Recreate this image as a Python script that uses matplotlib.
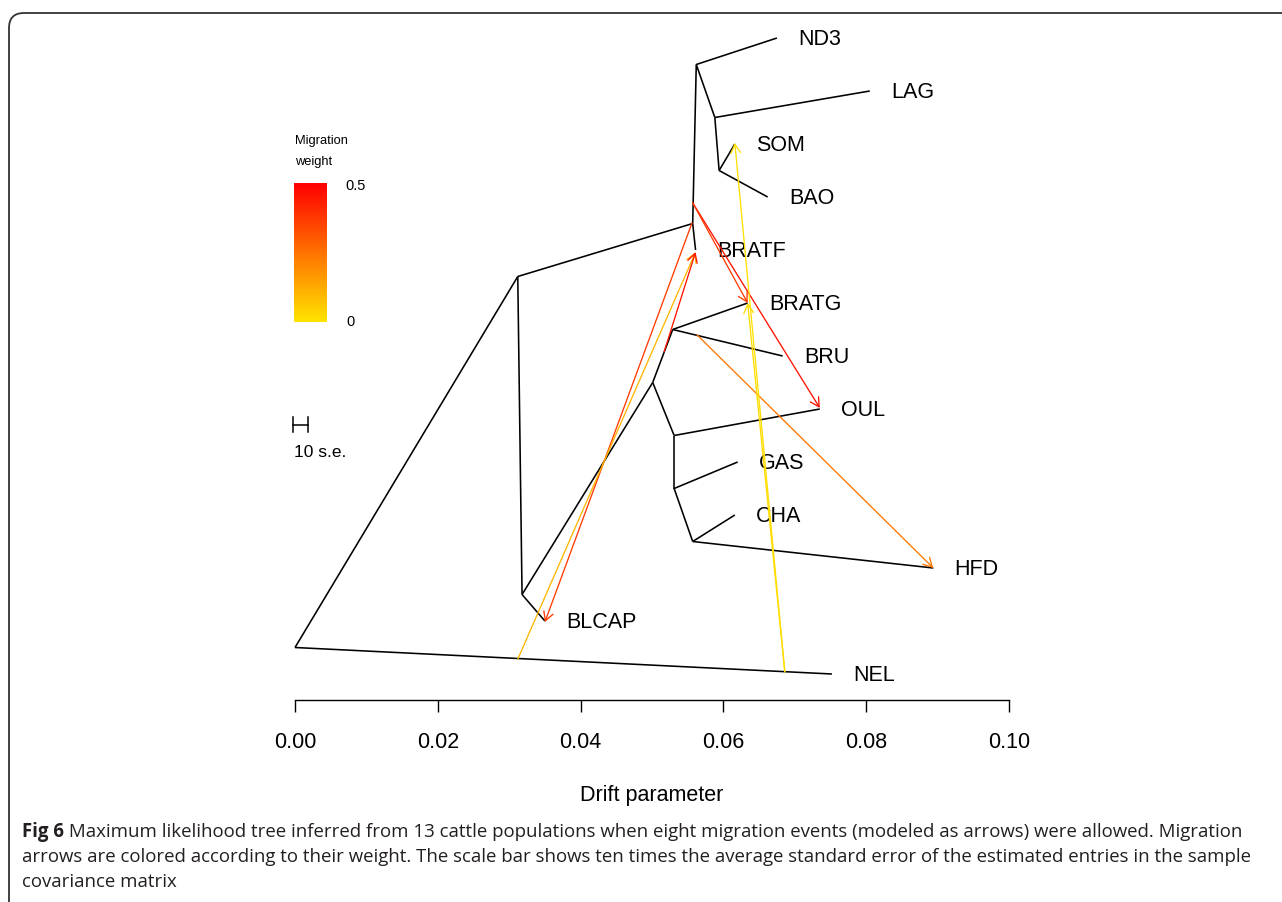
import numpy as np
import matplotlib as mpl
import matplotlib.pyplot as plt
from matplotlib.colors import LinearSegmentedColormap, Normalize
from matplotlib.patches import FancyBboxPatch
from matplotlib.transforms import IdentityTransform

plt.rcParams['font.family'] = ['Liberation Sans', 'DejaVu Sans']

################################################################################
########    DATA
################################################################################

# leaves: drift of tip, vertical slot
leaf_names = ['ND3', 'LAG', 'SOM', 'BAO', 'BRATF', 'BRATG', 'BRU',
              'OUL', 'GAS', 'CHA', 'HFD', 'BLCAP', 'NEL']
leaf_drift = [0.0675, 0.0805, 0.0616, 0.0662, 0.0561, 0.0634, 0.0683,
              0.0735, 0.0620, 0.0616, 0.0894, 0.0350, 0.0752]
leaf_pos = [12, 11, 10, 9, 8, 7, 6, 5, 4, 3, 2, 1, 0]

# internal nodes
node_ids = ['r', 'a', 'b', 'c', 'd', 'e', 'f', 'g', 'h', 'i', 'j', 'k']
node_drift = [0.0, 0.0312, 0.0557, 0.0318, 0.0501, 0.0529,
              0.0531, 0.0531, 0.0557, 0.0562, 0.0588, 0.0594]
node_pos = [0.5, 7.5, 8.5, 1.5, 5.5, 6.5, 4.5, 3.5, 2.5, 11.5, 10.5, 9.5]

edges = [('r', 'NEL'), ('r', 'a'), ('a', 'b'), ('a', 'c'), ('c', 'BLCAP'),
         ('c', 'd'), ('d', 'e'), ('e', 'BRATG'), ('e', 'BRU'), ('d', 'f'),
         ('f', 'OUL'), ('f', 'g'), ('g', 'GAS'), ('g', 'h'), ('h', 'CHA'),
         ('h', 'HFD'), ('b', 'BRATF'), ('b', 'i'), ('i', 'ND3'), ('i', 'j'),
         ('j', 'LAG'), ('j', 'k'), ('k', 'SOM'), ('k', 'BAO')]

# migration events
mig_src_drift = [0.0557, 0.0557, 0.0556, 0.0312, 0.0517, 0.0563, 0.0686, 0.0686]
mig_src_pos = [8.89, 8.89, 8.51, 0.28, 6.08, 6.40, 0.04, 0.04]
mig_dst_drift = [0.0735, 0.0634, 0.0350, 0.0561, 0.0561, 0.0894, 0.0616, 0.0634]
mig_dst_pos = [5.02, 7.00, 0.98, 7.96, 7.96, 2.00, 10.02, 7.00]
mig_weight = [0.46, 0.37, 0.37, 0.10, 0.45, 0.24, 0.01, 0.02]

se10 = 0.0021       # 10 s.e. scale bar
se_x0 = -0.0003
se_pos = 4.70

xticks = [0.00, 0.02, 0.04, 0.06, 0.08, 0.10]

caption = [
    ' Maximum likelihood tree inferred from 13 cattle populations when eight '
    'migration events (modeled as arrows) were allowed. Migration',
    'arrows are colored according to their weight. The scale bar shows ten '
    'times the average standard error of the estimated entries in the sample',
    'covariance matrix',
]

################################################################################
########    PLOT
################################################################################

W, H = 1282, 902
fig = plt.figure(figsize=(W / 100, H / 100), dpi=100)

mcols = LinearSegmentedColormap.from_list('mig', ['#FFE400', '#FF0000'])
norm = Normalize(0, 0.5)

# main axes: x drift 0..0.1 between px 295 and 1009, axis line at py 700
ax = fig.add_axes([295 / W, (H - 700) / H, 714 / W, 680 / H])
ax.set_xlim(0, 0.1)
ax.set_ylim((674 - 700) / 53.0, (674 - 20) / 53.0)

pos = {}
for n, x, y in zip(leaf_names, leaf_drift, leaf_pos):
    pos[n] = (x, y)
for n, x, y in zip(node_ids, node_drift, node_pos):
    pos[n] = (x, y)

for p, c in edges:
    ax.plot([pos[p][0], pos[c][0]], [pos[p][1], pos[c][1]],
            color='black', lw=1.15, clip_on=False, solid_capstyle='butt')

for n, x, y in zip(leaf_names, leaf_drift, leaf_pos):
    ax.text(x + 0.003, y - 0.02, n, ha='left', va='center', fontsize=15.5,
            color='black')

for sx, sy, dx, dy, w in zip(mig_src_drift, mig_src_pos, mig_dst_drift,
                             mig_dst_pos, mig_weight):
    ax.annotate('', xy=(dx, dy), xytext=(sx, sy),
                arrowprops=dict(arrowstyle='->,head_length=0.45,head_width=0.25',
                                color=mcols(norm(w)), lw=0.95,
                                shrinkA=0, shrinkB=0, mutation_scale=14),
                annotation_clip=False)

# scale bar
h = 0.14
ax.plot([se_x0, se_x0 + se10], [se_pos, se_pos], color='black', lw=1.1,
        clip_on=False)
ax.plot([se_x0, se_x0], [se_pos - h, se_pos + h], color='black', lw=1.1,
        clip_on=False)
ax.plot([se_x0 + se10, se_x0 + se10], [se_pos - h, se_pos + h],
        color='black', lw=1.1, clip_on=False)
ax.text(se_x0 + 0.0002, se_pos - 0.52, '10 s.e.', ha='left', va='center',
        fontsize=12.5)

for s in ['top', 'right', 'left']:
    ax.spines[s].set_visible(False)
ax.spines['bottom'].set_bounds(0, 0.1)
ax.spines['bottom'].set_linewidth(1.0)
ax.set_yticks([])
ax.set_xticks(xticks)
ax.set_xticklabels(['%.2f' % t for t in xticks], fontsize=15.5)
ax.tick_params(axis='x', length=8.6, width=1.0, pad=14.5)

fig.text(652 / W, 1 - 795 / H, 'Drift parameter', ha='center', va='center',
         fontsize=15.5)

# colour legend
cax = fig.add_axes([294 / W, (H - 322) / H, 33 / W, 139 / H])
grad = np.linspace(0.5, 0, 200).reshape(-1, 1)
cax.imshow(grad, aspect='auto', cmap=mcols, norm=norm)
cax.set_axis_off()
fig.text(295 / W, 1 - 141 / H, 'Migration', ha='left', va='center', fontsize=9.3)
fig.text(295 / W, 1 - 162 / H, 'weight', ha='left', va='center', fontsize=9.3)
fig.text(345 / W, 1 - 186 / H, '0.5', ha='left', va='center', fontsize=10.5)
fig.text(346 / W, 1 - 322 / H, '0', ha='left', va='center', fontsize=10.5)

# border with rounded corner
box = FancyBboxPatch((9, -60), 1500, H - 13 + 60,
                     boxstyle='round,pad=0,rounding_size=15',
                     transform=IdentityTransform(), fill=False,
                     edgecolor='#333333', lw=1.3)
fig.add_artist(box)

# caption
cap_font = ['Open Sans', 'DejaVu Sans']
ccol = '#231f20'
cs = 13.4
t0 = fig.text(22 / W, 1 - 832 / H, 'Fig 6', ha='left', va='center',
              fontsize=cs, fontweight='bold', family=cap_font, color=ccol)
r = fig.canvas.get_renderer()
bb = t0.get_window_extent(renderer=r)
fig.text(bb.x1 / W, 1 - 832 / H, caption[0], ha='left', va='center',
         fontsize=cs, family=cap_font, color=ccol)
fig.text(22 / W, 1 - 857 / H, caption[1], ha='left', va='center',
         fontsize=cs, family=cap_font, color=ccol)
fig.text(22 / W, 1 - 882 / H, caption[2], ha='left', va='center',
         fontsize=cs, family=cap_font, color=ccol)

fig.savefig('out.png', dpi=100)
